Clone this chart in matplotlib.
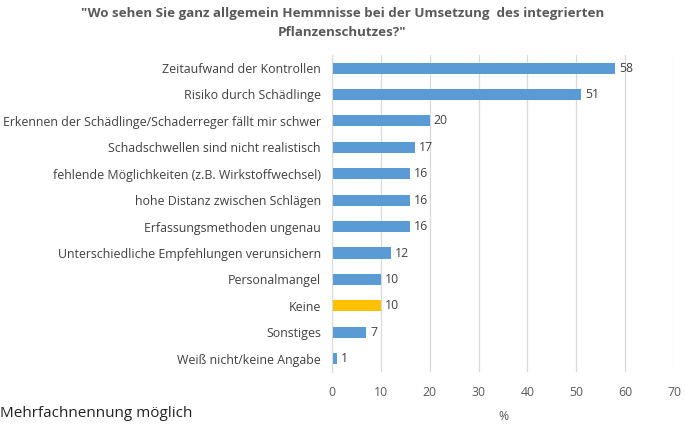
import matplotlib.pyplot as plt

plt.rcParams['font.family'] = ['Open Sans', 'DejaVu Sans']

# Kategorien und Werte (in %)
kategorien = [
    'Zeitaufwand der Kontrollen',
    'Risiko durch Schädlinge',
    'Erkennen der Schädlinge/Schaderreger fällt mir schwer',
    'Schadschwellen sind nicht realistisch',
    'fehlende Möglichkeiten (z.B. Wirkstoffwechsel)',
    'hohe Distanz zwischen Schlägen',
    'Erfassungsmethoden ungenau',
    'Unterschiedliche Empfehlungen verunsichern',
    'Personalmangel',
    'Keine',
    'Sonstiges',
    'Weiß nicht/keine Angabe',
]
werte = [58, 51, 20, 17, 16, 16, 16, 12, 10, 10, 7, 1]
farben = ['#5B9BD5'] * 9 + ['#FFC000'] + ['#5B9BD5'] * 2

grau = '#404040'

fig = plt.figure(figsize=(6.85, 4.32), dpi=100)
ax = fig.add_axes([0.4847, 0.139, 0.4993, 0.734])

pos = list(range(len(kategorien)))
ax.barh(pos, werte, height=0.42, color=farben)
for p, w in zip(pos, werte):
    ax.text(w + 0.8, p, str(w), va='center', ha='left', fontsize=8.8, color=grau)

ax.set_yticks(pos)
ax.set_yticklabels(kategorien, fontsize=8.9, color=grau)
ax.set_ylim(len(kategorien) - 0.5, -0.5)
ax.set_xlim(0, 70)
ax.set_xticks(range(0, 71, 10))
ax.tick_params(axis='x', colors='#595959', labelsize=8.8, length=0, pad=10)
ax.tick_params(axis='y', length=0, pad=8)
ax.set_xlabel('%', fontsize=8.8, color='#595959', labelpad=8)
ax.grid(axis='x', color='#D9D9D9', linewidth=0.9)
ax.set_axisbelow(True)
for s in ['top', 'right', 'bottom']:
    ax.spines[s].set_visible(False)
ax.spines['left'].set_color('#D9D9D9')

fig.text(0.5, 0.983, '"Wo sehen Sie ganz allgemein Hemmnisse bei der Umsetzung  des integrierten\nPflanzenschutzes?"',
         ha='center', va='top', fontsize=9.6, fontweight='bold', color='#595959', linespacing=1.6)
fig.text(0.0, 0.025, 'Mehrfachnennung möglich', ha='left', va='bottom', fontsize=11, color='#222222')

fig.savefig('out.png', dpi=100)
